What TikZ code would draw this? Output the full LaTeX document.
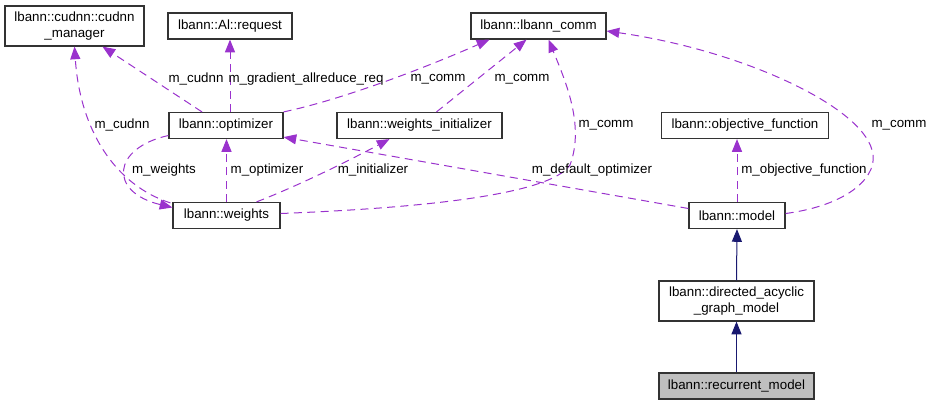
\documentclass[tikz,border=0pt]{standalone}
\usepackage{fontspec}
\setmainfont{Liberation Sans}
\usepackage{xcolor}
\definecolor{cUse}{HTML}{9A32CD}
\definecolor{cBase}{HTML}{191970}
\definecolor{cFocus}{HTML}{BFBFBF}
\usetikzlibrary{positioning,arrows.meta,calc}
\tikzset{
  class-box/.style={draw=black!80,line width=0.9pt,inner sep=0pt,minimum height=19.5pt,
    align=center,font=\fontsize{10pt}{12pt}\selectfont},
  class-two/.style={minimum height=30pt},
  class-focus/.style={fill=cFocus},
  edge-use/.style={-{Triangle[length=9.5pt,width=7.5pt]},line width=0.75pt,
    dash pattern=on 6pt off 4pt,draw=cUse},
  edge-base/.style={-{Triangle[length=9.5pt,width=7.5pt]},line width=0.75pt,draw=cBase},
  edge-label/.style={inner sep=0pt,font=\fontsize{10pt}{12pt}\selectfont},
}
\begin{document}
\begin{tikzpicture}[x=0.75pt,y=-0.75pt]
  \useasboundingbox (0,0) rectangle (932,405);
  % classes
  \node[class-box,class-two,minimum width=104.25pt] (cudnn) at (74.5,26) {lbann::cudnn::cudnn\\\_manager};
  \node[class-box,minimum width=93pt] (req) at (230,26) {lbann::Al::request};
  \node[class-box,minimum width=101.25pt] (comm) at (538.5,26) {lbann::lbann\_comm};
  \node[class-box,minimum width=85.5pt] (opt) at (226,125.5) {lbann::optimizer};
  \node[class-box,minimum width=123.75pt] (winit) at (419.5,125.5) {lbann::weights\_initializer};
  \node[class-box,minimum width=125.25pt] (objfn) at (745,125.5) {lbann::objective\_function};
  \node[class-box,minimum width=80.25pt] (wts) at (226.5,215.5) {lbann::weights};
  \node[class-box,minimum width=72pt] (model) at (737,215.5) {lbann::model};
  \node[class-box,class-two,minimum width=116.25pt] (dag) at (736.5,301) {lbann::directed\_acyclic\\\_graph\_model};
  \node[class-box,class-focus,minimum width=116.25pt] (rnn) at (736.5,386) {lbann::recurrent\_model};
  % usage edges
  \draw[edge-use] ($(opt.north)+(-24,0)$) -- ($(cudnn.south)+(28,0)$);
  \draw[edge-use] ($(wts.north west)+(-2,1)$) .. controls (115,185) and (80,130) .. (cudnn.south);
  \draw[edge-use] (req.south |- opt.north) -- (req.south);
  \draw[edge-use] (opt.north east) .. controls (340,100) and (420,70) .. ($(comm.south west)+(19,0)$);
  \draw[edge-use] ($(winit.north)+(17,0)$) -- ($(comm.south)+(-12,0)$);
  \draw[edge-use] ($(wts.east)+(0,-2)$) .. controls (420,208) and (550,195) .. (570,165)
    .. controls (585,125) and (565,80) .. ($(comm.south)+(10,0)$);
  \draw[edge-use] ($(model.east)+(0,-2)$) .. controls (850,205) and (880,175) .. (872,150)
    .. controls (860,105) and (740,50) .. ($(comm.east)+(0,5)$);
  \draw[edge-use] (wts.north) -- (wts.north |- opt.south);
  \draw[edge-use] ($(opt.west)+(0,10)$) .. controls (112,148) and (108,192) .. ($(wts.west)+(0,-8)$);
  \draw[edge-use] ($(wts.north)+(30,0)$) .. controls (300,185) and (350,160) .. ($(winit.south)+(-30,0)$);
  \draw[edge-use] ($(model.west)+(0,-7)$) -- ($(opt.south east)+(0,-2)$);
  \draw[edge-use] (model.north) -- (model.north |- objfn.south);
  % inheritance
  \draw[edge-base] (dag.north) -- (model.south);
  \draw[edge-base] (rnn.north) -- (dag.south);
  % labels
  \node[edge-label] (l-cudnn-opt) at (196,79) {m\_cudnn};
  \node[edge-label] (l-req) at (306,79) {m\_gradient\_allreduce\_req};
  \node[edge-label] (l-comm-opt) at (438,79) {m\_comm};
  \node[edge-label] (l-comm-init) at (522,79) {m\_comm};
  \node[edge-label] (l-cudnn-wts) at (122,125) {m\_cudnn};
  \node[edge-label] (l-comm-wts) at (606,125) {m\_comm};
  \node[edge-label] (l-comm-model) at (899,125) {m\_comm};
  \node[edge-label] (l-weights) at (164,170) {m\_weights};
  \node[edge-label] (l-optimizer) at (267,170) {m\_optimizer};
  \node[edge-label] (l-init) at (373,170) {m\_initializer};
  \node[edge-label] (l-default) at (592,170) {m\_default\_optimizer};
  \node[edge-label] (l-objfn) at (804,170) {m\_objective\_function};
\end{tikzpicture}
\end{document}
